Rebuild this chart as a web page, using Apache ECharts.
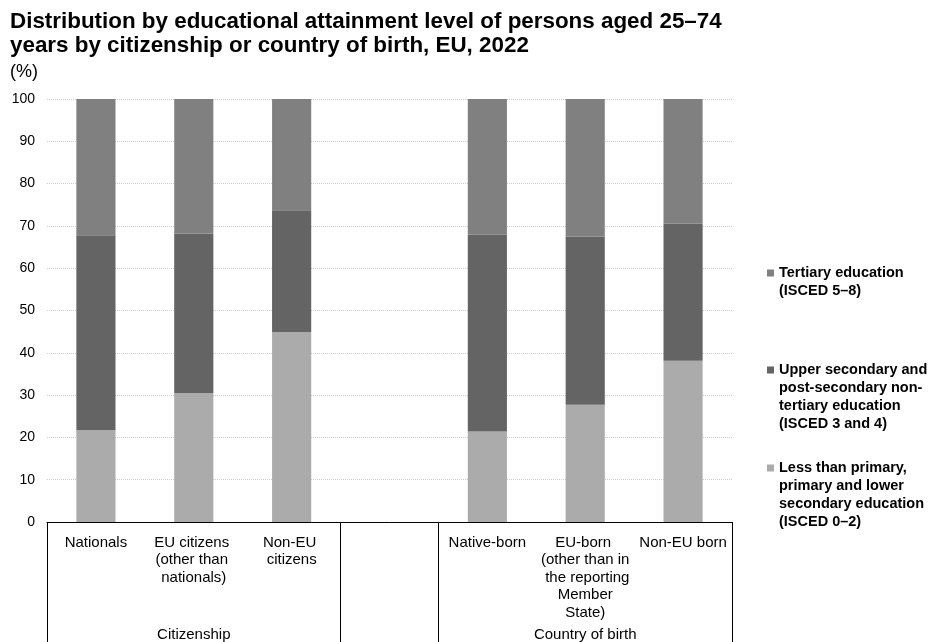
<!DOCTYPE html>
<html>
<head>
<meta charset="utf-8">
<script src="https://cdn.jsdelivr.net/npm/echarts@6/dist/echarts.min.js"></script>
<style>
  html, body { margin: 0; padding: 0; background: #ffffff; }
  #chart { width: 930px; height: 642px; }
</style>
</head>
<body>
<div id="chart"></div>
<script>
// Categories along the x axis; the empty slot separates the two groups.
const categories = [
  'Nationals',
  'EU citizens (other than nationals)',
  'Non-EU citizens',
  '',
  'Native-born',
  'EU-born (other than in the reporting Member State)',
  'Non-EU born'
];
const groupNames = ['Citizenship', 'Country of birth'];
const groupSizes = [3, 3];

// Shares (%) by attainment level
const lowerSecondary = [21.7, 30.5, 44.9, null, 21.4, 27.7, 38.1];
const upperSecondary = [46.1, 37.7, 28.8, null, 46.5, 39.8, 32.4];
const tertiary       = [32.2, 31.8, 26.3, null, 32.1, 32.5, 29.5];

const seriesNames = [
  'Tertiary education (ISCED 5–8)',
  'Upper secondary and post-secondary non-tertiary education (ISCED 3 and 4)',
  'Less than primary, primary and lower secondary education (ISCED 0–2)'
];
const legendLines = [
  ['Tertiary education', '(ISCED 5–8)'],
  ['Upper secondary and', 'post-secondary non-', 'tertiary education', '(ISCED 3 and 4)'],
  ['Less than primary,', 'primary and lower', 'secondary education', '(ISCED 0–2)']
];

const yMin = 0, yMax = 100, yStep = 10;

// Group boundaries and centres in category units
const groupBounds = [];
const groupCentres = [];
let pos = 0;
groupSizes.forEach(function (n) {
  groupBounds.push(pos, pos + n);
  groupCentres.push(pos + n / 2);
  pos += n + 1;
});

const FONT = "'Liberation Sans', Arial, sans-serif";
const colors = ['#808080', '#646464', '#ababab'];

const chart = echarts.init(document.getElementById('chart'), null, { renderer: 'canvas' });

// Legend: one block per item. Blank leading lines keep the marker
// (which is centred on the text block) level with the first text line.
const LEGEND_LH = 18;
const legendFirstLine = [273, 370, 468];
const legends = seriesNames.map(function (name, i) {
  const n = legendLines[i].length;
  return {
    data: [name],
    orient: 'vertical',
    left: 767,
    top: legendFirstLine[i] - ((2 * n - 1) * LEGEND_LH) / 2,
    padding: 0,
    itemWidth: 7,
    itemHeight: 7,
    icon: 'rect',
    selectedMode: false,
    formatter: function (nm) {
      const lines = legendLines[seriesNames.indexOf(nm)];
      return new Array(lines.length).join('\n') + lines.join('\n');
    },
    textStyle: {
      fontFamily: FONT,
      fontSize: 14.5,
      fontWeight: 'bold',
      color: '#000000',
      lineHeight: LEGEND_LH
    }
  };
});

const option = {
  backgroundColor: '#ffffff',
  animation: false,
  color: colors,
  title: [
    {
      text: 'Distribution by educational attainment level of persons aged 25–74\nyears by citizenship or country of birth, EU, 2022',
      left: 10,
      top: 10,
      padding: 0,
      textStyle: {
        fontFamily: FONT,
        fontSize: 22.4,
        fontWeight: 'bold',
        color: '#000000',
        lineHeight: 24
      }
    },
    {
      text: '(%)',
      left: 10,
      top: 62,
      padding: 0,
      textStyle: {
        fontFamily: FONT,
        fontSize: 18,
        fontWeight: 'normal',
        color: '#000000',
        lineHeight: 20
      }
    }
  ],
  legend: legends,
  grid: {
    left: 47,
    right: 198,
    top: 99,
    bottom: 120,
    containLabel: false,
    outerBoundsMode: 'none'
  },
  xAxis: [
    {
      type: 'category',
      data: categories,
      boundaryGap: true,
      axisLine: { show: true, lineStyle: { color: '#000000', width: 1 } },
      axisTick: { show: false },
      splitLine: { show: false },
      axisLabel: {
        interval: 0,
        margin: 12,
        fontFamily: FONT,
        fontSize: 15,
        color: '#000000',
        lineHeight: 17.5,
        width: 92,
        overflow: 'break',
        align: 'center'
      }
    },
    {
      type: 'value',
      min: 0,
      max: categories.length,
      position: 'bottom',
      axisLine: { show: false },
      splitLine: { show: false },
      axisTick: {
        show: true,
        inside: false,
        length: 120,
        customValues: groupBounds,
        lineStyle: { color: '#000000', width: 1 }
      },
      axisLabel: {
        show: true,
        customValues: groupCentres,
        margin: 104,
        fontFamily: FONT,
        fontSize: 15,
        color: '#000000',
        lineHeight: 17.5,
        formatter: function (v) { return groupNames[groupCentres.indexOf(v)]; }
      }
    }
  ],
  yAxis: {
    type: 'value',
    min: yMin,
    max: yMax,
    interval: yStep,
    axisLine: { show: false },
    axisTick: { show: false },
    axisLabel: {
      margin: 12,
      fontFamily: FONT,
      fontSize: 14,
      color: '#000000'
    },
    splitLine: {
      show: true,
      lineStyle: { color: '#cfcfcf', width: 1, type: 'dotted' }
    }
  },
  series: [
    {
      name: seriesNames[2],
      type: 'bar',
      stack: 'total',
      barWidth: '40%',
      itemStyle: { color: colors[2] },
      data: lowerSecondary
    },
    {
      name: seriesNames[1],
      type: 'bar',
      stack: 'total',
      barWidth: '40%',
      itemStyle: { color: colors[1] },
      data: upperSecondary
    },
    {
      name: seriesNames[0],
      type: 'bar',
      stack: 'total',
      barWidth: '40%',
      itemStyle: { color: colors[0] },
      data: tertiary
    }
  ]
};

chart.setOption(option);
</script>
</body>
</html>
